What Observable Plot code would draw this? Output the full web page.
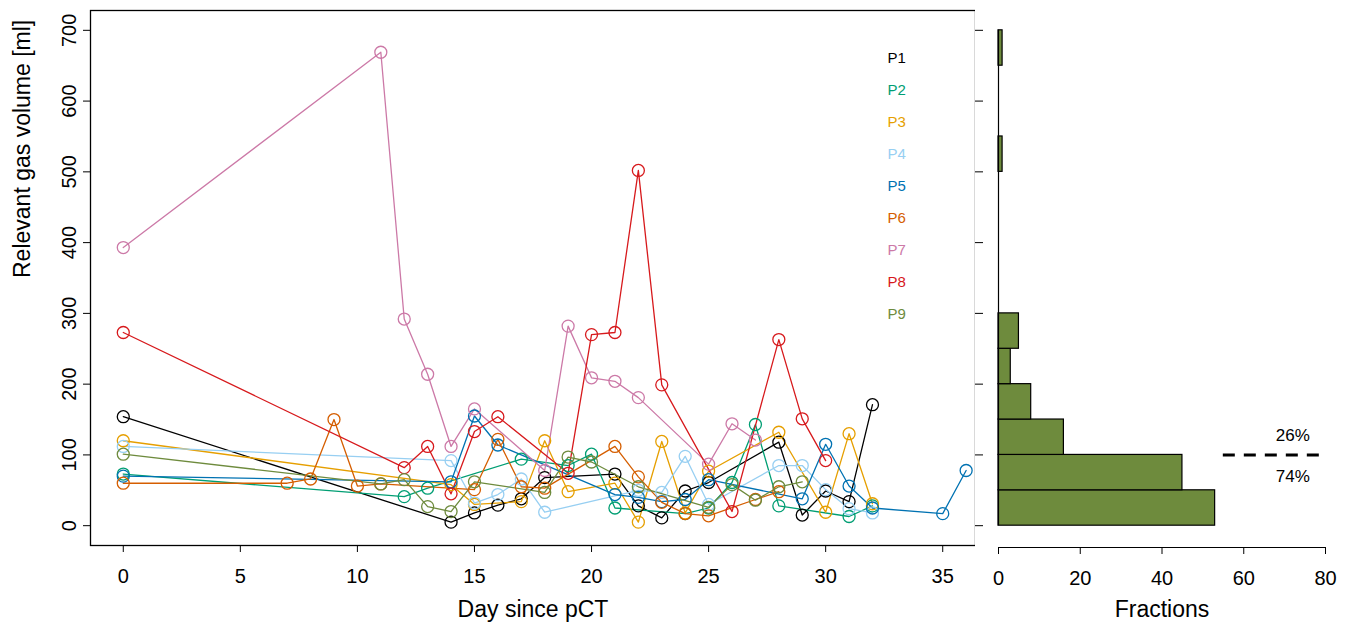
<!DOCTYPE html>
<html><head><meta charset="utf-8">
<script src="https://cdn.jsdelivr.net/npm/d3@7"></script>
<script src="https://cdn.jsdelivr.net/npm/@observablehq/plot@0.6"></script>
<style>
body{margin:0;background:#fff;}
#wrap{position:relative;width:1352px;height:625px;overflow:hidden;}
#main{position:absolute;left:0;top:0;}
#hist{position:absolute;left:975px;top:0;}
</style></head><body><div id="wrap"><div id="main"></div><div id="hist"></div></div>
<script>
// ---- data ----
const patients = ["P1","P2","P3","P4","P5","P6","P7","P8","P9"];
const colors = ["#000000","#009E73","#E69F00","#97CFF2","#0072B2","#D55E00","#CC79A7","#D7191C","#6E8B3D"];

const P1_days = [0,14,15,16,17,18,21,22,23,24,25,28,29,30,31,32];
const P1_vals = [154,5,18,29,38,68,73,28,11,49,61,118,15,49,34,171];
const P2_days = [0,12,13,17,19,20,21,24,25,26,27,28,31,32];
const P2_vals = [73,41,53,94,85,101,25,17,25,61,143,28,13,28];
const P3_days = [0,14,15,17,18,19,21,22,23,24,25,28,30,31,32];
const P3_vals = [120,58,30,34,120,48,60,5,119,18,77,132,19,130,31];
const P4_days = [0,14,15,16,17,18,22,23,24,25,28,29,30,31,32];
const P4_vals = [112,92,32,44,66,19,50,47,98,30,85,85,51,24,18];
const P5_days = [0,14,15,16,21,22,23,24,25,29,30,31,32,35,36];
const P5_vals = [70,62,155,114,44,40,34,37,65,38,115,56,25,17,78];
const P6_days = [0,7,8,9,10,11,15,16,17,18,21,22,23,24,25,27,28];
const P6_vals = [60,60,66,150,56,59,51,122,55,53,112,69,33,17,14,37,48];
const P7_days = [0,11,12,13,14,15,18,19,20,21,22,25,26,27];
const P7_vals = [393,669,292,214,112,165,78,282,209,204,181,87,144,121];
const P8_days = [0,12,13,14,15,16,19,20,21,22,23,26,28,29,30];
const P8_vals = [273,82,112,45,133,154,74,270,273,502,199,20,263,151,92];
const P9_days = [0,11,12,13,14,15,18,19,20,22,25,26,27,28,29];
const P9_vals = [101,59,65,27,20,62,47,97,90,55,26,58,36,55,62];

const xTicks = [0,5,10,15,20,25,30,35];
const yTicks = [0,100,200,300,400,500,600,700];

// histogram (bins of 50 ml, counts)
const binLow = [0,50,100,150,200,250,300,350,400,450,500,550,600,650];
const binCount = [53,45,16,8,3,5,0,0,0,0,1,0,0,1];
const fracTicks = [0,20,40,60,80];
const splitValue = 100;
const pctAbove = "26%";
const pctBelow = "74%";

// ---- build tables ----
const series = [P1_days,P2_days,P3_days,P4_days,P5_days,P6_days,P7_days,P8_days,P9_days];
const seriesV = [P1_vals,P2_vals,P3_vals,P4_vals,P5_vals,P6_vals,P7_vals,P8_vals,P9_vals];
const rows = [];
patients.forEach((p,i)=>series[i].forEach((d,j)=>rows.push({p, day:d, vol:seriesV[i][j]})));
const bins = binLow.map((lo,i)=>({lo, hi: lo+50, n: binCount[i]}));

const font = "'Liberation Sans', Arial, Helvetica, sans-serif";
const W1 = 985;
const main = Plot.plot({
  width: W1, height: 625,
  marginLeft: 90, marginRight: W1-975, marginTop: 10, marginBottom: 80,
  x: {domain: [-1.4, 36.4]},
  y: {domain: [-28, 728]},
  color: {domain: patients, range: colors},
  style: {fontFamily: font, fontSize: "20px", background: "white", color: "black"},
  marks: [
    Plot.line(rows, {x:"day", y:"vol", z:"p", stroke:"p", strokeWidth:1.3}),
    Plot.dot(rows, {x:"day", y:"vol", stroke:"p", r:6, strokeWidth:1.3, fill:"none"}),
    Plot.frame({stroke:"black", strokeWidth:1.3}),
    Plot.axisX({ticks: xTicks, tickSize: 7, tickPadding: 16, label: null, fontSize: 20}),
    Plot.axisY({ticks: yTicks, tickSize: 7, tickPadding: 8, tickRotate: -90, label: null, fontSize: 20}),
    ...patients.map((p,i)=>Plot.text([p], {text: d=>d, frameAnchor:"top-right", dx:-88, dy:47-5+32*i, textAnchor:"start", fill: colors[i], fontSize: 15})),
    Plot.text(["Day since pCT"], {text: d=>d, frameAnchor:"bottom", dy: 71, fontSize: 23}),
    Plot.text(["Relevant gas volume [ml]"], {text: d=>d, frameAnchor:"left", dx: -68, rotate: -90, fontSize: 23})
  ]
});
document.getElementById("main").appendChild(main);

const W2 = 377;
const hist = Plot.plot({
  width: W2, height: 625,
  marginLeft: 23, marginRight: 27, marginTop: 10, marginBottom: 80,
  x: {domain: [0, 80]},
  y: {domain: [-28, 728]},
  style: {fontFamily: font, fontSize: "20px", background: "white", color: "black", overflow: "visible"},
  marks: [
    Plot.rect(bins, {x1: 0, x2: "n", y1: "lo", y2: "hi", fill: "#6E8B3D", stroke: "black", strokeWidth: 1.2}),
    Plot.ruleX([0], {y1: 0, y2: 700, stroke: "black", strokeWidth: 1.2}),
    Plot.ruleY([-28], {x1: 0, x2: 80, stroke: "black", strokeWidth: 1.2, dy: 2}),
    Plot.axisX({ticks: fracTicks, tickSize: 7, tickPadding: 16, label: null, fontSize: 20, dy: 2}),
    Plot.axisY({ticks: yTicks, tickSize: 8, tickFormat: () => "", label: null, dx: -15}),
    Plot.ruleY([splitValue], {x1: 55, x2: 80, stroke: "black", strokeWidth: 3, strokeDasharray: "12,9"}),
    Plot.text([pctAbove], {text: d=>d, x: 72, y: splitValue, dy: -19, fontSize: 17}),
    Plot.text([pctBelow], {text: d=>d, x: 72, y: splitValue, dy: 22, fontSize: 17}),
    Plot.text(["Fractions"], {text: d=>d, frameAnchor: "bottom", dy: 71, fontSize: 23})
  ]
});
document.getElementById("hist").appendChild(hist);
</script></body></html>
